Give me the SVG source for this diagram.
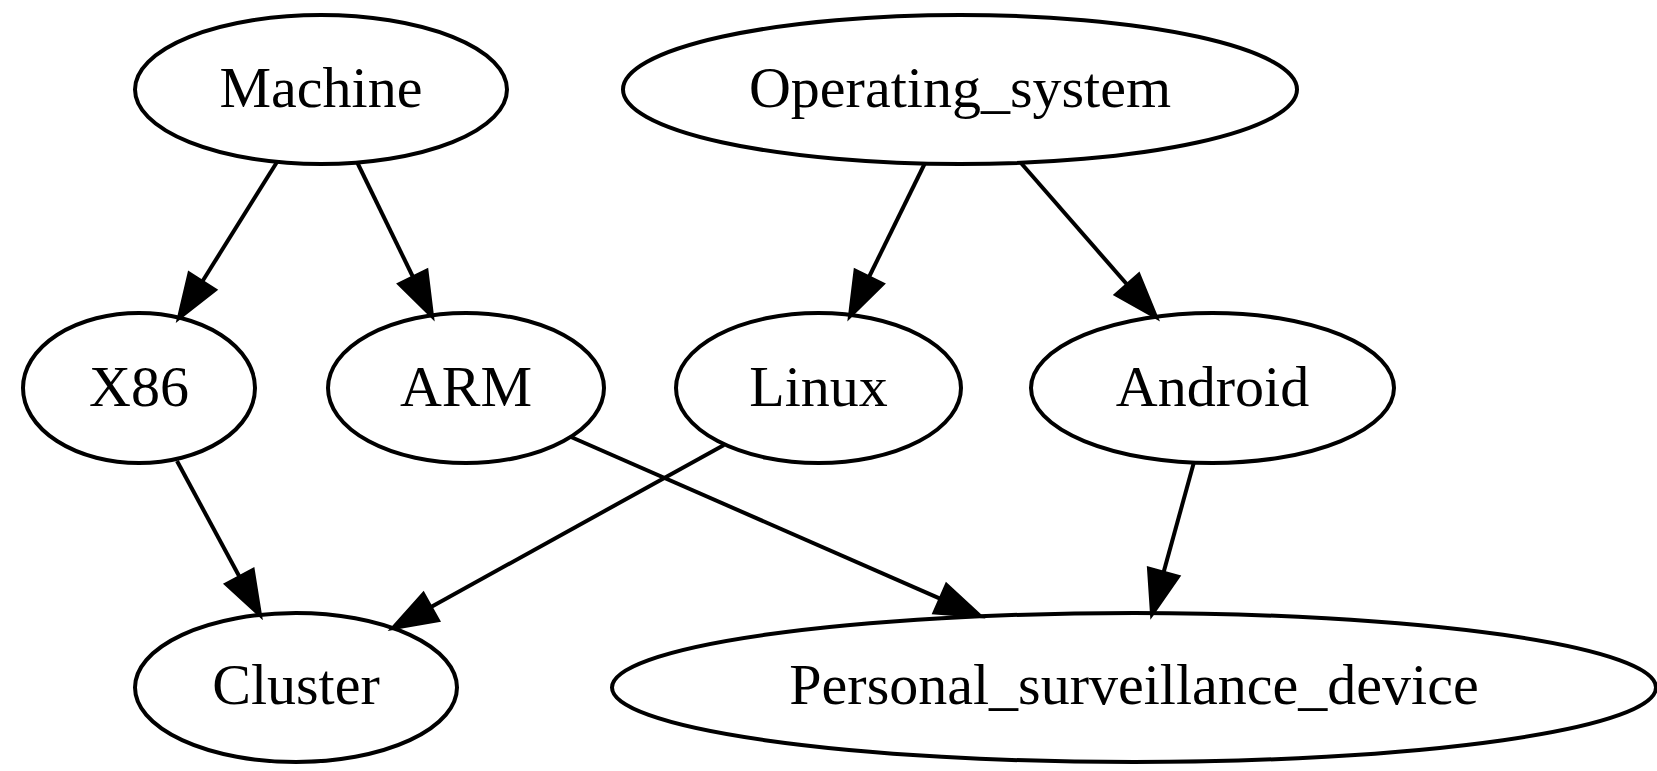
<svg xmlns="http://www.w3.org/2000/svg" width="1657" height="771" viewBox="0 0 1657 771">
<style>
.node ellipse{fill:none;stroke:#000;stroke-width:4}
.node text{font-family:"Liberation Serif","Times New Roman",serif;font-size:58px;text-anchor:middle;fill:#000}
.edges line{stroke:#000;stroke-width:4}
.edges polygon{fill:#000;stroke:#000;stroke-width:4}
</style>
<rect width="1657" height="771" fill="#fff"/>
<g class="edges" id="edges">
<line x1="277" y1="162" x2="202" y2="282"/>
<polygon points="179,318 214.8,289.8 189.4,273.6"/>
<line x1="357" y1="162" x2="413" y2="277"/>
<polygon points="432,316 426.5,270.8 399.5,284"/>
<line x1="925" y1="163" x2="869" y2="277"/>
<polygon points="850,316 882.5,284 855.5,270.8"/>
<line x1="1021" y1="163" x2="1127.5" y2="285"/>
<polygon points="1156,317 1138.7,274.8 1116.2,294.7"/>
<line x1="177" y1="461" x2="239.6" y2="577"/>
<polygon points="260,615 252.8,570.1 226.4,584.3"/>
<line x1="724" y1="445" x2="430.6" y2="607.2"/>
<polygon points="393,628 437.9,620.3 423.3,594.1"/>
<line x1="571" y1="437" x2="940.6" y2="598.8"/>
<polygon points="980,616 946.6,585.1 934.6,612.5"/>
<line x1="1194" y1="462" x2="1163.5" y2="572.6"/>
<polygon points="1152,614 1178,576.6 1149,568.6"/>
</g>
<g class="node" id="Machine"><ellipse cx="321" cy="89.5" rx="186" ry="74.5"/><text x="321" y="107">Machine</text></g>
<g class="node" id="Operating_system"><ellipse cx="960" cy="89.5" rx="337" ry="74.5"/><text x="960" y="107">Operating_system</text></g>
<g class="node" id="X86"><ellipse cx="139" cy="388" rx="116" ry="75"/><text x="139" y="405.5">X86</text></g>
<g class="node" id="ARM"><ellipse cx="466" cy="388" rx="138" ry="75"/><text x="466" y="405.5">ARM</text></g>
<g class="node" id="Linux"><ellipse cx="818.5" cy="388" rx="142.5" ry="75"/><text x="818.5" y="405.5">Linux</text></g>
<g class="node" id="Android"><ellipse cx="1212.5" cy="388" rx="181.5" ry="75"/><text x="1212.5" y="405.5">Android</text></g>
<g class="node" id="Cluster"><ellipse cx="296" cy="687.5" rx="161" ry="74.5"/><text x="296" y="703.5">Cluster</text></g>
<g class="node" id="Personal_surveillance_device"><ellipse cx="1134" cy="687.5" rx="522" ry="74.5"/><text x="1134" y="703.5">Personal_surveillance_device</text></g>
</svg>
